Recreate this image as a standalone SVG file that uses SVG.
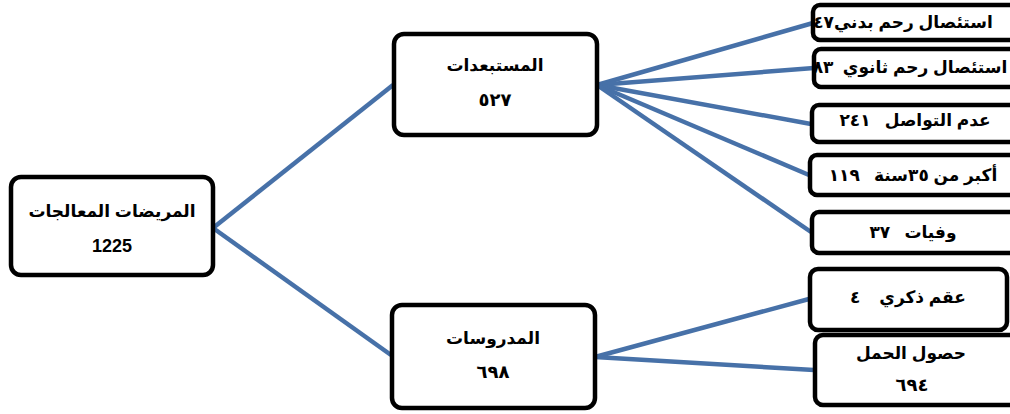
<svg xmlns="http://www.w3.org/2000/svg" width="1010" height="414" viewBox="0 0 1010 414" xml:space="preserve">
<style>
.box{fill:#fff;stroke:#000;stroke-width:4.5}
.t{font-family:"Liberation Sans","DejaVu Sans",sans-serif;font-weight:bold;font-size:17px;fill:#000;text-anchor:middle;white-space:pre}
.n{font-family:"Liberation Sans","DejaVu Sans",sans-serif;font-weight:bold;font-size:18px;fill:#000;text-anchor:middle}
.s{letter-spacing:3px}
.c{stroke:#4771a8;stroke-width:4.5;fill:none;stroke-linecap:butt}
</style>
<rect width="1010" height="414" fill="#fff"/>
<g id="connectors">
<line class="c" x1="213" y1="228" x2="393" y2="85"/>
<line class="c" x1="213" y1="228" x2="391" y2="355"/>
<line class="c" x1="597" y1="85" x2="813" y2="23"/>
<line class="c" x1="597" y1="85" x2="814" y2="68"/>
<line class="c" x1="597" y1="85" x2="811" y2="124"/>
<line class="c" x1="597" y1="85" x2="809" y2="175"/>
<line class="c" x1="597" y1="85" x2="811" y2="232"/>
<line class="c" x1="595" y1="357" x2="809" y2="299"/>
<line class="c" x1="595" y1="357" x2="814" y2="370"/>
</g>
<g id="root">
<rect class="box" x="11" y="177" width="202" height="98" rx="10"/>
<text class="t" x="112" y="217" direction="rtl">المريضات المعالجات</text>
<text class="n" x="112" y="252">1225</text>
</g>
<g id="excluded">
<rect class="box" x="394" y="34" width="203" height="101" rx="10"/>
<text class="t" x="495" y="71" direction="rtl">المستبعدات</text>
<text class="n s" x="495" y="106" direction="rtl">٥٢٧</text>
</g>
<g id="studied">
<rect class="box" x="392" y="305" width="203" height="103" rx="10"/>
<text class="t" x="493" y="344" direction="rtl">المدروسات</text>
<text class="n s" x="493" y="378" direction="rtl">٦٩٨</text>
</g>
<g id="n1">
<rect class="box" x="813" y="5" width="210" height="35" rx="7"/>
<text class="t" x="903" y="28" direction="rtl">استئصال رحم بدني٤٧</text>
</g>
<g id="n2">
<rect class="box" x="814" y="49" width="210" height="38" rx="7"/>
<text class="t" x="910" y="73" direction="rtl">استئصال رحم ثانوي  ٨٣</text>
</g>
<g id="n3">
<rect class="box" x="812" y="105" width="210" height="37" rx="7"/>
<text class="t" x="915" y="126" direction="rtl">عدم التواصل   ٢٤١</text>
</g>
<g id="n4">
<rect class="box" x="810" y="155" width="210" height="40" rx="7"/>
<text class="t" x="913" y="181" direction="rtl">أكبر من ٣٥سنة   ١١٩</text>
</g>
<g id="n5">
<rect class="box" x="812" y="212" width="210" height="41" rx="7"/>
<text class="t" x="913" y="238" direction="rtl">وفيات   ٣٧</text>
</g>
<g id="n6">
<rect class="box" x="810" y="269" width="197" height="61" rx="8"/>
<text class="t" x="908" y="303" direction="rtl">عقم ذكري    ٤</text>
</g>
<g id="n7">
<rect class="box" x="815" y="335" width="210" height="70" rx="8"/>
<text class="t" x="911" y="359" direction="rtl">حصول الحمل</text>
<text class="n s" x="912" y="391" direction="rtl">٦٩٤</text>
</g>
</svg>
